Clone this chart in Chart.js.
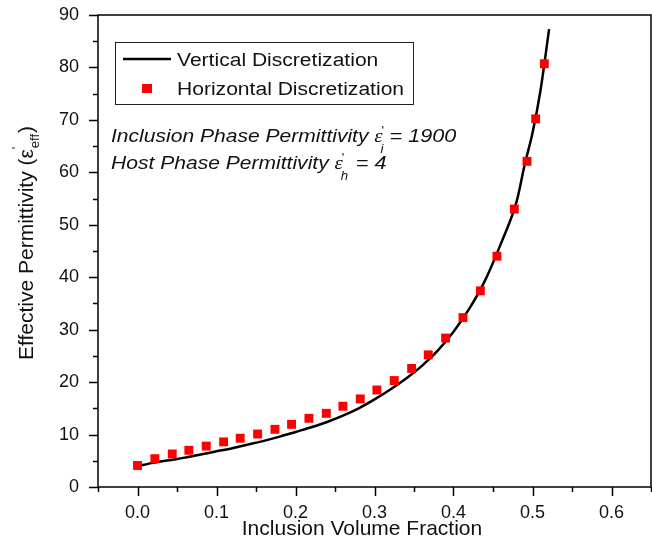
<!DOCTYPE html>
<html lang="en">
<head>
<meta charset="UTF-8">
<title>Effective Permittivity vs Inclusion Volume Fraction</title>
<script src="https://cdn.jsdelivr.net/npm/chart.js"></script>
<style>
  html, body { margin: 0; padding: 0; background: #fff; overflow: hidden; }
  #wrap { width: 652px; height: 538px; position: relative; }
</style>
</head>
<body>
<div id="wrap"><canvas id="permChart"></canvas></div>
<script>
// horizontal discretization (red squares)
const squareX = [0, 0.022, 0.044, 0.065, 0.087, 0.109, 0.130, 0.152, 0.174, 0.195, 0.217, 0.239, 0.260,
                 0.282, 0.303, 0.325, 0.347, 0.368, 0.390, 0.412, 0.434, 0.455, 0.477, 0.493, 0.504, 0.515];
const squareY = [4.1, 5.4, 6.3, 7.0, 7.8, 8.6, 9.3, 10.1, 11.0, 11.95, 13.1, 14.05, 15.4,
                 16.8, 18.5, 20.3, 22.6, 25.2, 28.4, 32.3, 37.4, 44.0, 53.0, 62.1, 70.2, 80.7];

// vertical discretization (black line)
const lineX = [0, 0.02, 0.04, 0.06, 0.08, 0.10, 0.12, 0.14, 0.16, 0.18, 0.20, 0.22, 0.24, 0.26, 0.28,
               0.30, 0.32, 0.34, 0.36, 0.38, 0.40, 0.42, 0.44, 0.46, 0.48, 0.49, 0.50, 0.51, 0.521];
const lineY = [4.0, 4.6, 5.1, 5.6, 6.2, 6.8, 7.4, 8.1, 8.8, 9.6, 10.5, 11.4, 12.4, 13.6, 15.0,
               16.7, 18.6, 20.7, 23.1, 26.0, 29.6, 34.0, 39.4, 46.4, 54.5, 61.4, 67.5, 75.5, 87.3];

const xTickValues = [0, 0.1, 0.2, 0.3, 0.4, 0.5, 0.6];
const yTickValues = [0, 10, 20, 30, 40, 50, 60, 70, 80, 90];

const seriesNames = ['Vertical Discretization', 'Horizontal Discretization'];
const xTitle = 'Inclusion Volume Fraction';

const toPoints = (xs, ys) => xs.map((x, i) => ({ x: x, y: ys[i] }));

// draws text stretched horizontally, returns advance
function drawText(ctx, str, x, y, sx) {
  ctx.save();
  ctx.translate(x, y);
  ctx.scale(sx, 1);
  ctx.fillText(str, 0, 0);
  ctx.restore();
  return ctx.measureText(str).width * sx;
}

const decorPlugin = {
  id: 'decor',
  afterDraw(chart) {
    const { ctx, chartArea: a, scales: { x, y } } = chart;
    ctx.save();

    // frame
    ctx.strokeStyle = '#000';
    ctx.lineWidth = 1.5;
    ctx.strokeRect(a.left, a.top, a.right - a.left, a.bottom - a.top);

    // tick marks, major + minor, pointing out
    ctx.beginPath();
    for (let i = -1; i <= 13; i++) {
      const px = Math.round(x.getPixelForValue(i * 0.05)) + 0.5;
      const len = (i % 2 === 0) ? 9 : 5;
      ctx.moveTo(px, a.bottom);
      ctx.lineTo(px, a.bottom + len);
    }
    for (let i = 0; i <= 18; i++) {
      const py = Math.round(y.getPixelForValue(i * 5)) + 0.5;
      const len = (i % 2 === 0) ? 9 : 5;
      ctx.moveTo(a.left, py);
      ctx.lineTo(a.left - len, py);
    }
    ctx.stroke();

    // legend box
    ctx.lineWidth = 1;
    ctx.strokeStyle = '#222';
    ctx.strokeRect(115.5, 42.5, 298, 62);
    ctx.lineWidth = 2.5;
    ctx.strokeStyle = '#000';
    ctx.beginPath();
    ctx.moveTo(123, 59);
    ctx.lineTo(171, 59);
    ctx.stroke();
    ctx.fillStyle = '#ff0000';
    ctx.fillRect(142, 84, 10, 9);

    ctx.fillStyle = '#111';
    ctx.textBaseline = 'alphabetic';
    ctx.textAlign = 'left';
    ctx.font = '18px "Liberation Sans", Arial, sans-serif';
    drawText(ctx, seriesNames[0], 177, 66, 1.17);
    drawText(ctx, seriesNames[1], 177, 95, 1.17);

    // parameter notes
    const notes = [
      { pre: 'Inclusion Phase Permittivity ', sub: 'i', post: '= 1900', base: 142 },
      { pre: 'Host Phase Permittivity ', sub: 'h', post: ' = 4', base: 169 }
    ];
    notes.forEach(n => {
      let cx = 111;
      ctx.font = 'italic 18px "Liberation Sans", Arial, sans-serif';
      cx += drawText(ctx, n.pre, cx, n.base, 1.17);
      ctx.font = 'italic 19px "Liberation Serif", serif';
      const ew = drawText(ctx, '\u03b5', cx, n.base, 1.1);
      ctx.font = '12px "Liberation Sans", Arial, sans-serif';
      drawText(ctx, '\'', cx + ew - 1, n.base - 7, 1.1);
      ctx.font = 'italic 12px "Liberation Sans", Arial, sans-serif';
      drawText(ctx, n.sub, cx + ew - 2, n.base + 11, 1.1);
      cx += ew + 7;
      ctx.font = 'italic 18px "Liberation Sans", Arial, sans-serif';
      drawText(ctx, n.post, cx, n.base, 1.2);
    });

    // x axis title
    ctx.font = '21px "Liberation Sans", Arial, sans-serif';
    ctx.textAlign = 'center';
    ctx.fillText(xTitle, 362, 535);

    // y axis title, rotated
    ctx.save();
    ctx.translate(33, 360);
    ctx.rotate(-Math.PI / 2);
    ctx.textAlign = 'left';
    ctx.font = '21px "Liberation Sans", Arial, sans-serif';
    let tx = 0;
    ctx.fillText('Effective Permittivity (', tx, 0);
    tx += ctx.measureText('Effective Permittivity (').width;
    ctx.fillText('\u03b5', tx, 0);
    tx += ctx.measureText('\u03b5').width;
    ctx.font = '13px "Liberation Sans", Arial, sans-serif';
    ctx.fillText('\'', tx, -12);
    ctx.fillText('eff', tx + 1, 6);
    tx += ctx.measureText('eff').width + 2;
    ctx.font = '21px "Liberation Sans", Arial, sans-serif';
    ctx.fillText(')', tx, 0);
    ctx.restore();

    ctx.restore();
  }
};

const chart = new Chart(document.getElementById('permChart').getContext('2d'), {
  type: 'scatter',
  data: {
    datasets: [
      {
        label: seriesNames[1],
        data: toPoints(squareX, squareY),
        pointStyle: 'rect',
        pointRadius: 6.3,
        pointBackgroundColor: '#ff0000',
        pointBorderWidth: 0,
        showLine: false
      },
      {
        label: seriesNames[0],
        data: toPoints(lineX, lineY),
        showLine: true,
        borderColor: '#000',
        borderWidth: 2.5,
        pointRadius: 0,
        cubicInterpolationMode: 'monotone',
        fill: false
      }
    ]
  },
  options: {
    responsive: true,
    maintainAspectRatio: false,
    animation: false,
    layout: { autoPadding: false, padding: { top: 15, right: 1, left: 0, bottom: 0 } },
    plugins: {
      legend: { display: false },
      tooltip: { enabled: false },
      title: { display: false }
    },
    scales: {
      x: {
        type: 'linear',
        min: -0.05,
        max: 0.65,
        grid: { display: false },
        border: { display: false },
        afterBuildTicks: s => { s.ticks = xTickValues.map(v => ({ value: v })); },
        afterFit: s => { s.height = 51; s.paddingLeft = 0; s.paddingRight = 0; },
        ticks: {
          padding: 7,
          color: '#111',
          maxRotation: 0,
          autoSkip: false,
          font: { family: '"Liberation Sans", Arial, sans-serif', size: 18 },
          callback: v => Number(v).toFixed(1)
        }
      },
      y: {
        type: 'linear',
        min: 0,
        max: 90,
        grid: { display: false },
        border: { display: false },
        afterBuildTicks: s => { s.ticks = yTickValues.map(v => ({ value: v })); },
        afterFit: s => { s.width = 98; s.paddingTop = 0; s.paddingBottom = 0; },
        ticks: {
          padding: 11,
          color: '#111',
          autoSkip: false,
          font: { family: '"Liberation Sans", Arial, sans-serif', size: 18 },
          callback: v => String(v)
        }
      }
    }
  },
  plugins: [decorPlugin]
});
</script>
</body>
</html>
